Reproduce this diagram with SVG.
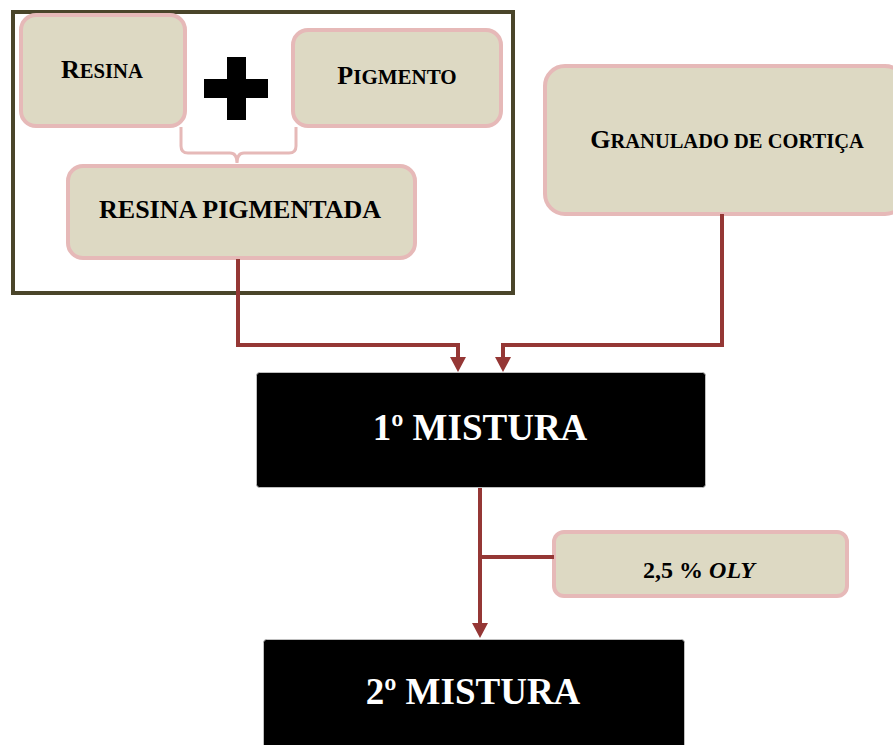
<svg xmlns="http://www.w3.org/2000/svg" width="893" height="745" viewBox="0 0 893 745">
<style>
.box{fill:#ddd9c3;stroke:#e6b9b8;stroke-width:4}
.blk{fill:#000;stroke:#bfbfbf;stroke-width:1}
.t{font-family:"Liberation Serif","Times New Roman",serif;font-weight:bold;fill:#000;text-anchor:middle}
.w{font-family:"Liberation Serif","Times New Roman",serif;font-weight:bold;fill:#fff;text-anchor:middle;font-size:37px}
.c{fill:none;stroke:#953735;stroke-width:4}
.brace{fill:none;stroke:#e6b9b8;stroke-width:3}
</style>
<defs>
<marker id="ah" markerUnits="userSpaceOnUse" markerWidth="16" markerHeight="17" refX="0" refY="8" orient="auto" viewBox="0 0 16 17">
<path d="M0,0 L15,8 L0,16 Z" fill="#953735"/>
</marker>
</defs>
<g id="group-box">
<rect x="13" y="12" width="500" height="281" fill="none" stroke="#4a452a" stroke-width="4"/>
</g>
<g id="brace">
<path class="brace" d="M181,127 V146 Q181,153 188,153 H230 Q237,153 237,163 Q237,153 244,153 H289 Q296,153 296,146 V127"/>
</g>
<g id="resina">
<rect class="box" x="21" y="15" width="164" height="111" rx="15"/>
<text class="t" x="102" y="78" font-size="26">R<tspan font-size="20.7">ESINA</tspan></text>
</g>
<g id="plus">
<rect x="227" y="57" width="19" height="63" fill="#000"/>
<rect x="204" y="79" width="64" height="19" fill="#000"/>
</g>
<g id="pigmento">
<rect class="box" x="293" y="30" width="208" height="96" rx="15"/>
<text class="t" x="397" y="84" font-size="26">P<tspan font-size="21">IGMENTO</tspan></text>
</g>
<g id="resina-pigmentada">
<rect class="box" x="68" y="166" width="347" height="92" rx="15"/>
<text class="t" x="240" y="218" font-size="26">RESINA PIGMENTADA</text>
</g>
<g id="granulado">
<rect class="box" x="545" y="66" width="360" height="148" rx="20"/>
<text class="t" x="727" y="148" font-size="26">G<tspan font-size="20.5">RANULADO DE CORTIÇA</tspan></text>
</g>
<g id="mistura1">
<rect class="blk" x="256.5" y="372.5" width="449" height="115" rx="3"/>
<text class="w" x="480" y="440">1º MISTURA</text>
</g>
<g id="oly">
<rect class="box" x="554" y="532" width="293" height="64" rx="10"/>
<text class="t" x="699" y="578" font-size="24">2,5 % <tspan font-style="italic">OLY</tspan></text>
</g>
<g id="mistura2">
<rect class="blk" x="263.5" y="639.5" width="421" height="120" rx="3"/>
<text class="w" x="473" y="704">2º MISTURA</text>
</g>
<g id="connectors">
<path class="c" d="M238,259 V345 H458 V357" marker-end="url(#ah)"/>
<path class="c" d="M722,214 V345 H503 V357" marker-end="url(#ah)"/>
<path class="c" d="M480,488 V623" marker-end="url(#ah)"/>
<path class="c" d="M480,557 H554"/>
</g>
</svg>
